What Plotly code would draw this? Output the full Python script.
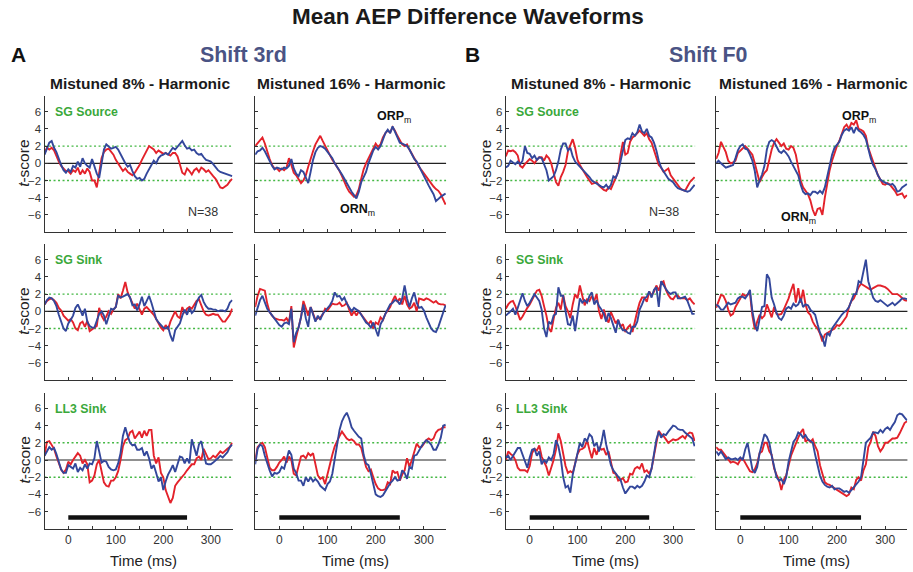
import plotly.graph_objects as go

W, H = 913, 572
FONT = "Liberation Sans, Arial, sans-serif"

# sample grid (ms) shared by all waveforms
TIME_MS = list(range(-50, 350, 5))
STIM_MS = [0, 250]
STIM_Y = -6.7
Y_TICKS = [-6, -4, -2, 0, 2, 4, 6]
X_TICKS = [0, 100, 200, 300]
X_MINOR_TICKS = [-50, 50, 150, 250]
SIG_LEVEL = 2.0

SHIFTS = ["Shift 3rd", "Shift F0"]
CONDITIONS = ["Mistuned 8% - Harmonic", "Mistuned 16% - Harmonic"]
LAYERS = ["SG Source", "SG Sink", "LL3 Sink"]

# ---- Shift 3rd, SG Source ----
s3_m8_src_red = [
    1.2, 1.8, 1.6, 1.8, 1.5, 0.8, 0.2, -0.3, -0.6, -0.9,
    -0.9, -1.2, -0.8, -1.0, -0.5, -1.3, -0.8, -1.2, -0.6, -1.0,
    -2.0, -2.0, -2.8, -1.2, 0.6, 1.3, 1.6, 1.7, 1.3, 1.0,
    0.4, 0.0, -0.4, -0.9, -0.6, -1.0, -1.2, -1.4, -1.1, -0.7,
    -0.2, 0.4, 0.9, 1.5, 2.0, 1.8, 1.6, 1.2, 1.5, 1.3,
    1.1, 1.2, 1.0, 0.9, 1.2, 1.2, 0.8, -0.2, -1.1, -1.3,
    -0.6, -0.9, -1.3, -0.8, -0.6, -1.0, -0.5, -0.7, -1.0, -0.8,
    -1.2, -1.5, -1.8, -2.3, -2.8, -2.9, -2.7, -2.5, -2.1, -1.8]
s3_m8_src_blue = [
    1.0, 1.6, 2.4, 2.6, 1.8, 1.3, 0.5, -0.2, -0.8, -1.1,
    -0.7, -1.0, -0.3, -0.5, 0.2, -0.4, 0.6, 0.0, -0.3, -0.5,
    0.5, -0.5, -1.2, -1.7, 0.0, 1.6, 2.2, 2.0, 1.7, 1.8,
    1.9, 1.6, 1.0, 0.5, 0.0, -0.4, -0.2, -0.9, -1.5, -1.8,
    -1.7, -2.0, -1.8, -1.2, -0.6, -0.2, 0.3, 0.0, 0.6, 0.9,
    1.0, 1.2, 1.0, 1.4, 1.8, 1.6, 1.9, 2.2, 2.6, 2.1,
    1.7, 1.8, 1.5, 1.6, 1.2, 1.0, 1.1, 0.7, 0.4, 0.3,
    0.2, -0.1, -0.5, -0.8, -1.0, -1.1, -1.2, -1.3, -1.4, -1.5]
s3_m16_src_red = [
    2.0, 2.3, 2.7, 3.0, 2.3, 1.3, 0.5, -0.2, -0.6, -0.6,
    -0.9, -0.6, -0.8, -0.5, 0.6, -0.2, -1.1, -1.4, -1.9, -2.3,
    -2.0, -1.4, -0.4, 0.6, 1.4, 2.2, 2.8, 3.2, 2.6, 2.0,
    1.6, 1.0, 0.4, 0.0, -0.4, -0.9, -1.5, -2.2, -2.8, -3.3,
    -3.6, -3.9, -3.7, -3.0, -1.8, -0.7, 0.0, 0.6, 1.3, 1.8,
    2.3, 1.9, 2.2, 3.0, 3.5, 3.8, 3.6, 4.2, 3.8, 3.2,
    2.6, 2.2, 2.0, 2.2, 1.6, 1.1, 0.5, 0.1, -0.4, -0.8,
    -1.2, -1.6, -2.0, -2.4, -2.7, -3.0, -3.2, -3.6, -4.2, -4.8]
s3_m16_src_blue = [
    1.0, 1.4, 1.5, 1.8, 1.4, 0.8, 0.2, -0.3, -0.7, -0.5,
    -0.6, -0.7, -0.5, -0.6, -0.3, 0.5, -0.6, -1.2, -1.5, -0.8,
    -1.0, -1.6, -2.3, -1.0, 0.4, 1.3, 1.8, 2.0, 1.9, 1.7,
    1.3, 1.0, 0.6, 0.0, -0.4, -0.8, -1.3, -1.8, -2.3, -2.9,
    -3.3, -3.7, -4.1, -3.3, -2.2, -1.6, -1.0, 0.0, 0.8, 1.5,
    1.9, 1.6, 2.0, 2.7, 3.5, 3.9, 3.5, 4.3, 3.6, 2.9,
    2.4, 2.3, 2.1, 2.0, 1.6, 1.1, 0.5, 0.2, -0.4, -1.0,
    -1.4, -2.0, -2.6, -3.1, -3.6, -4.4, -4.1, -3.9, -3.7, -3.5]

# ---- Shift F0, SG Source ----
f0_m8_src_red = [
    0.8, 1.5, 1.4, 1.5, 1.3, 0.9, -0.3, -0.5, -0.1, 0.2,
    0.5, 0.3, 0.0, 0.4, 0.7, 0.7, 0.3, 0.9, 0.6, 0.0,
    -1.2, -2.2, -2.6, -1.6, -1.0, -0.2, 1.4, 2.0, 2.8, 1.8,
    0.4, -0.2, -0.7, -1.2, -1.6, -2.0, -2.4, -2.3, -2.2, -2.6,
    -2.9, -3.1, -3.2, -2.8, -3.0, -2.4, -1.6, -1.0, 1.0, 2.5,
    1.0, 1.2, 2.5, 3.0, 3.2, 3.5, 3.8, 3.5, 3.2, 3.5,
    2.8, 2.4, 1.6, 0.7, -0.2, -0.5, -1.0, -0.8, -0.6, -1.4,
    -1.8, -2.2, -2.5, -2.9, -3.1, -3.2, -2.7, -2.2, -1.9, -1.6]
f0_m8_src_blue = [
    -0.5, -0.3, 0.3, 0.1, -0.1, 0.2, -0.1, 0.3, 2.0, 1.2,
    1.1, 0.6, 0.9, 0.4, 0.7, 0.6, -0.1, -0.8, -2.0, -1.8,
    -1.5, -0.8, 0.2, 1.6, 2.3, 2.3, 1.5, 1.8, 0.8, 0.2,
    -0.1, -0.3, -0.7, -1.0, -1.3, -1.6, -2.0, -2.2, -2.4, -2.5,
    -2.7, -2.8, -2.5, -2.9, -2.5, -1.5, -1.7, -1.0, 0.3, 1.5,
    2.7, 2.9, 2.8, 3.5, 3.2, 3.6, 4.5, 3.7, 3.5, 4.0,
    3.2, 3.0, 2.4, 1.5, 0.3, -0.5, -0.9, -1.4, -1.8, -2.0,
    -2.2, -2.6, -2.9, -3.0, -3.1, -3.2, -3.3, -3.2, -2.9, -2.5]
f0_m16_src_red = [
    0.5, 1.2, 2.5, 1.8, 1.3, 0.3, 0.0, 0.1, 0.3, 1.2,
    1.5, 1.8, 2.0, 1.7, 1.4, 1.0, 0.0, -1.3, -2.2, -1.6,
    -1.1, -0.8, 0.5, 1.6, 2.4, 2.8, 2.4, 2.0, 2.3, 1.7,
    1.6, 2.0, 1.8, 1.0, -0.5, -2.0, -2.8, -3.2, -3.6, -4.3,
    -5.4, -6.1, -5.3, -5.2, -6.0, -4.0, -2.2, -0.8, 0.3, 1.3,
    2.0, 2.6, 3.4, 4.2, 4.5, 4.0, 4.7, 4.5, 5.0, 4.0,
    3.9, 3.7, 3.2, 1.8, 1.0, 0.1, -0.6, -1.4, -2.0, -2.4,
    -2.5, -2.3, -2.5, -2.8, -3.2, -3.7, -3.6, -3.5, -4.0, -3.7]
f0_m16_src_blue = [
    0.0, 0.3, 0.0, -0.2, -0.5, -0.4, -0.3, -0.2, 0.6, 1.5,
    2.0, 2.2, 1.7, 1.6, 1.0, 0.3, -0.9, -2.8, -2.0, -1.3,
    -0.3, 1.6, 2.5, 2.7, 2.5, 2.0, 1.4, 1.2, 1.5, 1.2,
    0.8, 0.2, -0.4, -1.0, -1.4, -2.5, -3.3, -3.6, -3.5, -3.7,
    -3.3, -3.3, -3.5, -3.2, -3.5, -2.8, -1.5, -0.3, 1.0, 1.8,
    2.2, 2.5, 3.3, 3.8, 4.0, 3.8, 4.2, 3.5, 4.2, 3.8,
    3.6, 3.3, 2.8, 1.6, 0.6, -0.2, -0.7, -1.4, -1.9, -2.1,
    -2.3, -2.4, -2.5, -2.4, -2.7, -3.3, -3.2, -2.8, -2.6, -2.4]

# ---- Shift 3rd, SG Sink ----
s3_m8_sgsink_red = [
    0.8, 1.2, 1.4, 1.5, 1.3, 1.0, 0.4, 0.1, -0.5, -0.8,
    -1.1, -0.9, -1.3, -2.0, -2.2, -1.4, -1.2, -1.8, -1.1, -2.3,
    -2.1, -2.0, -1.7, 0.4, -0.5, -1.0, -0.6, 0.0, -0.3, 0.2,
    0.5, 2.0, 1.5, 2.4, 3.4, 2.2, 1.5, 1.0, 0.3, 0.9,
    0.3, -0.4, 0.3, 0.5, 0.2, -0.1, -0.4, -0.9, -1.4, -1.9,
    -2.2, -1.6, -2.1, -1.2, -0.6, 0.0, -0.6, -0.8, 0.5, -0.2,
    0.3, 0.5, 0.3, 0.8, 1.2, 1.4, 0.6, 0.0, -0.4, -0.5,
    -0.4, -0.3, -0.4, -0.4, -0.8, -1.2, -1.2, -0.8, -0.4, 0.3]
s3_m8_sgsink_blue = [
    0.8, 1.3, 1.6, 1.5, 1.2, 0.6, -0.4, -1.2, -2.0, -2.3,
    -1.4, -1.0, -0.5, 0.4, 0.8, 0.2, -0.5, 0.3, -1.2, -1.7,
    -1.9, -1.9, -1.0, -0.3, 0.0, -0.5, -1.5, -0.6, 0.3, 0.2,
    0.5, 1.8, 1.6, 1.7, 1.9, 2.0, 1.6, 0.7, 0.8, 0.1,
    0.8, 1.7, 0.6, 1.2, 1.8, 1.0, 0.0, -0.9, -1.3, -1.6,
    -1.9, -2.0, -1.8, -2.8, -3.5, -2.2, -1.8, -1.4, -0.5, 0.2,
    -0.4, 0.4, -0.2, 0.1, 1.0, 1.6, 1.9, 1.1, 0.6, 0.3,
    0.3, 0.2, 0.2, 0.0, 0.1, 0.1, 0.0, 0.3, 1.0, 1.3]
s3_m16_sgsink_red = [
    0.5, 1.8, 2.6, 2.5, 2.4, 0.9, -0.1, -0.5, -0.8, -0.9,
    -1.0, -1.0, -1.1, -0.8, -1.3, 0.6, -4.2, -3.0, -2.0, -0.7,
    1.2, 0.4, -0.5, 0.5, -0.3, -1.0, -0.8, -0.7, -0.4, 0.3,
    0.1, 0.5, 0.9, 0.8, 0.8, 1.0, 0.6, 0.7, 1.0, 0.2,
    -0.5, 0.0, -0.5, 0.0, -0.4, -0.8, -1.1, -1.5, -1.1, -2.0,
    -1.3, -1.5, -0.7, -1.0, -0.3, 0.1, 0.5, 1.2, 1.8, 1.1,
    1.5, 0.8, 1.8, 0.8, 0.3, 0.5, 1.0, 0.0, 1.5, 1.4,
    1.3, 1.5, 1.4, 1.2, 1.0, 1.2, 0.9, 0.8, 0.8, 0.7]
s3_m16_sgsink_blue = [
    -0.5, 0.3, 1.3, 1.8, 1.0, 0.3, -0.1, -0.5, -0.9, -1.3,
    -1.6, -1.8, -1.4, -1.3, -1.5, 0.3, -3.6, -2.5, -1.9, -0.7,
    0.8, -0.8, -1.8, 0.5, -0.4, -1.2, -0.5, -1.0, -0.3, 0.0,
    0.4, 0.7, 1.2, 2.2, 1.7, 1.8, 1.3, 1.6, 0.9, 0.4,
    0.0, 0.4, 0.2, 0.0, -0.4, -0.9, -1.3, -1.5, -1.9, -1.3,
    -2.0, -2.9, -1.5, -1.0, -0.3, 0.3, 0.8, 1.0, 1.3, 1.2,
    0.8, 1.5, 3.0, 1.5, 0.5, 1.5, 2.2, 1.0, 0.4, 0.5,
    0.1, -0.7, -1.4, -2.0, -2.3, -2.4, -1.8, -1.0, 0.0, 0.7]

# ---- Shift F0, SG Sink ----
f0_m8_sgsink_red = [
    0.3, 0.8, 1.1, 1.2, 0.6, -0.3, -1.0, -0.6, 0.0, 0.4,
    0.8, 1.3, 1.8, 2.4, 2.5, 1.8, 0.6, -0.5, -2.0, -2.4,
    -0.9, 0.4, 1.0, 0.2, 1.9, 0.6, 0.0, -0.8, 0.8, 2.0,
    1.5, 3.0, 1.8, 0.7, 1.4, 1.2, 1.8, 1.2, 2.0, 0.0,
    -0.9, 0.2, -0.8, -1.3, -0.1, -0.8, -1.4, -1.0, -1.8, -1.5,
    -2.4, -1.9, -1.6, -2.4, -1.0, 0.0, 1.0, 1.6, 1.6, 1.1,
    2.3, 1.8, 2.3, 3.0, 2.4, 3.3, 3.5, 2.5, 1.9, 1.5,
    1.4, 1.8, 1.8, 1.5, 1.5, 1.5, 1.3, 1.5, 1.1, 0.8]
f0_m8_sgsink_blue = [
    -0.5, -0.3, 0.0, 0.3, -0.4, 0.4, 1.2, 2.1, 1.2, 0.6,
    1.0, 1.6, 2.0, 1.6, 1.2, 0.2, -2.0, -3.0, -1.2, -1.5,
    -0.5, -0.3, 2.8, 1.8, 1.8, 0.0, -1.5, -1.6, -0.5, -2.3,
    -0.3, 1.5, 1.0, 1.3, 1.0, 1.8, 2.2, 0.8, 1.3, 0.6,
    0.2, -0.3, -1.2, -0.2, -0.8, -1.8, -2.5, -1.0, -1.8, -2.2,
    -2.2, -2.5, -2.6, -1.8, -1.8, -1.2, 0.2, 0.8, 1.5, 1.7,
    2.3, 1.6, 2.5, 2.8, 0.5, 3.5, 3.0, 2.6, 2.2, 2.0,
    2.2, 2.2, 1.5, 1.5, 1.6, 1.7, 1.2, 0.5, -0.3, -0.3]
f0_m16_sgsink_red = [
    0.4, 1.2, 1.9, 1.8, 1.2, 0.2, -0.5, -0.3, 0.5, 1.0,
    1.5, 2.0, 1.8, 2.0, 2.1, -0.5, -2.1, -1.2, -0.4, -0.8,
    -0.5, 0.8, 0.0, -0.7, 0.5, -0.3, -0.4, -0.3, 0.2, 0.8,
    1.5, 2.4, 3.2, 1.0, 2.7, 1.0, 2.5, 0.8, -0.1, -0.4,
    -1.2, -1.7, -2.0, -2.6, -3.5, -2.7, -2.5, -2.4, -2.2, -2.0,
    -1.6, -1.7, -1.4, -1.0, -0.6, 0.5, 1.2, 1.5, 2.2, 2.8,
    3.2, 3.0, 2.8, 2.6, 2.5, 2.7, 2.9, 3.0, 3.0, 2.9,
    2.8, 2.6, 2.3, 2.0, 2.0, 2.0, 1.8, 1.5, 1.3, 1.2]
f0_m16_sgsink_blue = [
    0.8, 0.6, 0.2, 0.2, 0.6, 1.0, 0.8, 0.9, 1.0, 1.5,
    1.7, 1.7, 1.5, 1.9, 2.5, 0.0, -1.5, -2.3, -0.8, 0.5,
    0.6, 4.3, 3.8, 1.6, 0.8, -0.2, -0.8, -1.0, -0.5, 0.3,
    0.5, 0.3, 0.9, 0.6, 0.8, 1.5, 0.5, 0.8, 0.7, 0.2,
    -0.1, -0.4, -1.5, -2.5, -3.0, -4.1, -2.5, -2.8, -2.0, -1.6,
    -1.2, -0.7, -0.4, -0.1, 0.1, 0.5, 1.3, 2.0, 2.0, 3.5,
    3.3, 4.5, 6.0, 3.5, 2.5, 1.6, 1.2, 1.1, 1.3, 1.1,
    0.8, 0.6, 0.8, 1.0, 0.7, 0.9, 1.2, 1.5, 1.5, 1.4]

# ---- Shift 3rd, LL3 Sink ----
s3_m8_ll3_red = [
    0.5, 2.1, 2.2, 1.7, 1.3, 0.4, -0.4, -1.1, -1.5, -1.1,
    -0.2, -0.5, 0.0, 0.4, 0.8, 0.5, -0.4, 0.0, -0.5, -2.6,
    -2.4, -1.8, -0.5, 0.0, -1.5, -2.6, -3.0, -3.1, -2.4, -2.4,
    -2.0, -1.3, 0.0, 1.6, 2.3, 2.5, 3.2, 3.4, 2.5, 2.9,
    3.3, 2.6, 3.4, 2.8, 3.5, 3.5, 0.5, -0.4, 0.3, -1.5,
    -2.0, -3.5, -4.3, -5.0, -4.4, -3.0, -2.6, -2.3, -2.0, -1.6,
    -1.2, -0.8, -0.5, -0.5, 0.2, 0.4, 0.0, 1.3, 0.6, 0.1,
    0.2, 0.5, 0.3, 0.6, 1.0, 0.8, 1.1, 1.3, 1.5, 2.0]
s3_m8_ll3_blue = [
    0.5, 1.0, 1.5, 1.2, 1.4, 0.7, -0.2, -1.1, -1.5, -1.5,
    -0.6, -0.8, -1.0, -0.4, -1.4, -0.9, -1.2, -0.5, -1.0, -0.4,
    -0.5, 0.2, 2.2, 1.0, -0.3, -0.1, -0.2, -0.8, -1.1, -1.2,
    -1.1, -0.4, 0.8, 2.8, 3.8, 2.8, 2.0, 1.7, 1.8, 1.2,
    1.2, 1.4, 0.5, 1.0, 0.2, -1.0, -0.6, -1.5, -2.5, -2.0,
    -3.5, -2.5, -1.7, -1.2, -0.6, -1.4, -0.6, 0.4, 0.3, -0.4,
    0.2, -0.4, 2.4, 1.5, 0.5, 1.8, 2.2, 0.8, -0.4, -0.5,
    -0.5, -0.3, -0.1, 0.2, 0.5, 0.3, 0.6, 0.9, 1.5, 1.8]
s3_m16_ll3_red = [
    0.0, 1.5, 1.8, 2.0, 1.5, 0.3, -0.9, -1.2, -1.2, -0.8,
    -0.3, 0.0, 0.4, -0.3, 0.4, 0.0, -1.6, -1.8, -0.5, 0.4,
    0.5, 0.2, 0.8, 0.5, 0.8, -0.6, -1.8, -2.2, -2.0, -2.8,
    -1.6, -0.5, 0.6, 1.6, 2.3, 2.8, 3.3, 2.9, 2.5, 2.3,
    2.4, 2.2, 1.8, 1.8, 1.4, 0.3, -0.8, -1.3, -1.1, -2.0,
    -2.8, -3.3, -3.5, -3.5, -3.4, -2.6, -2.8, -1.2, -1.5, -1.4,
    -2.4, -1.7, -1.2, 0.2, -0.8, 0.0, 1.1, 1.9, 1.5, 1.5,
    1.9, 2.3, 2.5, 2.3, 2.5, 3.2, 3.5, 3.6, 3.8, 3.8]
s3_m16_ll3_blue = [
    -0.5, 1.3, 1.8, 1.6, 0.5, -0.5, -1.2, -1.9, -1.5, -1.6,
    -1.4, -0.8, -1.0, 0.0, 1.1, 0.6, -1.0, -1.5, -2.4, -2.4,
    -3.0, -2.0, -2.5, -2.0, -2.5, -2.2, -2.5, -3.0, -3.3, -3.5,
    -2.8, -2.5, -1.6, 0.3, 1.8, 3.5, 4.5, 5.1, 5.5, 4.8,
    3.8, 3.4, 3.0, 2.7, 2.5, 0.6, -0.4, -0.6, -1.6, -2.8,
    -4.0, -4.2, -4.3, -4.1, -3.6, -3.1, -2.7, -2.4, -2.0, -2.4,
    -2.3, -1.2, -1.5, -2.2, -0.8, -1.0, 0.5, 0.6, 1.2, 1.6,
    2.0, 2.3, 2.1, 1.8, 1.2, 1.2, 1.8, 2.6, 4.0, 4.1]

# ---- Shift F0, LL3 Sink ----
f0_m8_ll3_red = [
    0.0, 1.0, 0.7, 0.5, 0.0, -0.9, -1.2, -1.2, -1.2, -1.4,
    -0.7, 0.8, 1.3, 1.1, 1.7, 0.4, -0.2, -0.8, -1.8, -1.0,
    0.0, 1.2, 3.1, 2.2, 0.5, -0.7, -1.5, -1.3, -1.5, -0.5,
    0.7, 1.2, 1.3, 1.5, 2.3, 1.2, 0.2, 1.4, 0.6, 1.5,
    1.2, 1.3, 0.6, 1.0, -0.4, -1.5, -1.6, -2.4, -2.3, -2.1,
    -2.6, -2.5, -1.6, -1.7, -1.0, -0.8, -1.0, -0.4, -1.4, -1.2,
    -1.6, -1.0, 0.5, 2.0, 3.4, 3.0, 2.8, 2.4, 2.0, 2.2,
    2.4, 2.3, 2.4, 2.6, 2.8, 2.5, 3.0, 3.2, 3.1, 2.2]
f0_m8_ll3_blue = [
    0.3, 0.5, 0.0, 0.5, 0.9, 1.4, 1.4, 0.6, -0.3, -0.9,
    0.3, 1.2, 1.3, 0.5, 1.0, -0.5, 0.0, -0.3, 0.3, 0.0,
    0.7, 2.3, 1.6, 0.2, -2.0, -3.2, -3.0, -3.8, -1.7, -0.5,
    0.8, 2.0, 1.5, 2.5, 2.2, 3.0, 2.7, 1.6, 2.0, 1.0,
    2.0, 3.5, 1.8, 0.6, -0.6, -1.2, -1.6, -2.0, -2.3, -3.2,
    -3.9, -3.5, -3.1, -3.1, -3.3, -3.0, -3.2, -3.0, -2.5, -1.8,
    -2.0, -1.0, 1.0, 2.4, 3.3, 2.6, 3.0, 2.9, 3.3, 3.7,
    4.0, 3.9, 3.6, 3.5, 3.5, 3.2, 3.0, 2.8, 2.5, 1.6]
f0_m16_ll3_red = [
    1.5, 1.2, 1.2, 0.8, 0.4, 0.0, -0.3, -0.2, -0.3, -0.5,
    0.0, 0.2, -0.3, -0.8, -1.3, -1.4, -1.1, -0.4, 0.8, 1.0,
    2.0, 2.0, 1.0, 0.6, -1.0, -1.7, -2.3, -3.5, -2.3, -1.8,
    -0.5, 0.5, 1.2, 2.0, 2.6, 3.2, 3.6, 2.1, 2.4, 2.1,
    2.4, 1.6, 1.0, -0.6, -1.5, -2.6, -2.8, -2.9, -3.1, -3.3,
    -3.5, -3.7, -3.9, -4.1, -4.2, -4.0, -3.2, -3.4, -2.3, -2.0,
    -2.4, -1.2, -0.5, 1.5, 2.1, 3.3, 2.8, 1.6, 1.0, 1.4,
    2.0, 2.0, 2.2, 2.5, 2.5, 2.6, 3.1, 3.8, 4.3, 4.5]
f0_m16_ll3_blue = [
    1.0, 0.6, 1.0, 0.6, 0.1, 0.3, 0.1, 0.1, 0.2, 0.0,
    0.3, 0.0, 1.2, 2.0, 0.5, -1.1, -1.5, -0.8, 0.8, 2.0,
    3.0, 2.7, 2.0, 0.5, -0.8, -2.0, -2.4, -2.2, -2.8, -2.0,
    -0.2, 1.0, 2.1, 2.5, 3.2, 3.0, 2.6, 2.9, 2.4, 2.2,
    2.0, 0.6, -0.5, -1.8, -2.5, -2.9, -3.1, -3.2, -3.0, -3.4,
    -3.3, -3.3, -3.5, -3.7, -3.6, -3.8, -3.5, -3.2, -2.8, -2.5,
    -2.0, 0.0, 2.0, 2.3, 2.6, 3.2, 3.2, 3.1, 3.5, 3.2,
    3.6, 3.8, 3.5, 4.0, 4.4, 5.2, 5.4, 5.3, 5.0, 4.6]

# panel grid: rows = layers, columns = (shift, condition)
PANELS = [
    [(s3_m8_src_red, s3_m8_src_blue), (s3_m16_src_red, s3_m16_src_blue),
     (f0_m8_src_red, f0_m8_src_blue), (f0_m16_src_red, f0_m16_src_blue)],
    [(s3_m8_sgsink_red, s3_m8_sgsink_blue), (s3_m16_sgsink_red, s3_m16_sgsink_blue),
     (f0_m8_sgsink_red, f0_m8_sgsink_blue), (f0_m16_sgsink_red, f0_m16_sgsink_blue)],
    [(s3_m8_ll3_red, s3_m8_ll3_blue), (s3_m16_ll3_red, s3_m16_ll3_blue),
     (f0_m8_ll3_red, f0_m8_ll3_blue), (f0_m16_ll3_red, f0_m16_ll3_blue)],
]

RED = "#e3222b"
BLUE = "#33479b"
GREEN_TXT = "#3aa83a"
GREEN_DOT = "#45b845"
AXIS_CLR = "#333333"
SHIFT_CLR = "#4a5384"

X_RANGE = [-50, 346]
Y_RANGE = [-8, 7.8]

# pixel layout of the axes boxes
COL_ZERO_PX = [68.3, 279.3, 529.7, 740.3]
COL_PX_PER_MS = [0.475, 0.482, 0.478, 0.483]
ROW_ZERO_PX = [163.3, 311.3, 460.0]
PX_PER_UNIT = 8.6


def px(x):
    return x / W


def py(y):
    return 1 - y / H


def label(text, x, y, size, color="#222", **kw):
    d = dict(text=text, xref="paper", yref="paper", x=px(x), y=py(y),
             xanchor="center", yanchor="middle", showarrow=False,
             font=dict(size=size, color=color, family=FONT))
    d.update(kw)
    return d


fig = go.Figure()
layout = dict(
    width=W, height=H, margin=dict(l=0, r=0, t=0, b=0),
    paper_bgcolor="white", plot_bgcolor="white", showlegend=False,
    font=dict(family=FONT, color="#222"),
)
shapes = []
annotations = []

for r in range(3):
    for c in range(4):
        k = r * 4 + c + 1
        sfx = "" if k == 1 else str(k)
        x0 = COL_ZERO_PX[c] + X_RANGE[0] * COL_PX_PER_MS[c]
        x1 = COL_ZERO_PX[c] + X_RANGE[1] * COL_PX_PER_MS[c]
        ytop = ROW_ZERO_PX[r] - Y_RANGE[1] * PX_PER_UNIT
        ybot = ROW_ZERO_PX[r] - Y_RANGE[0] * PX_PER_UNIT
        bottom = r == 2
        layout["xaxis" + sfx] = dict(
            domain=[px(x0), px(x1)], range=X_RANGE, anchor="y" + sfx,
            showline=True, linecolor=AXIS_CLR, linewidth=1.4,
            ticks="inside", ticklen=3, tickwidth=1, tickcolor=AXIS_CLR,
            tickvals=X_TICKS,
            minor=dict(tickvals=X_MINOR_TICKS, ticks="inside", ticklen=3,
                       tickwidth=1, tickcolor=AXIS_CLR, showgrid=False),
            showticklabels=bottom, tickfont=dict(size=12, color="#333", family=FONT),
            showgrid=False, zeroline=False, fixedrange=True,
        )
        layout["yaxis" + sfx] = dict(
            domain=[py(ybot), py(ytop)], range=Y_RANGE, anchor="x" + sfx,
            showline=True, linecolor=AXIS_CLR, linewidth=1.4,
            ticks="inside", ticklen=3, tickwidth=1, tickcolor=AXIS_CLR,
            tickvals=Y_TICKS, showticklabels=(c % 2 == 0),
            tickfont=dict(size=11.5, color="#333", family=FONT),
            showgrid=False, zeroline=False, fixedrange=True,
        )
        xr, yr = "x" + sfx, "y" + sfx
        # zero line and significance thresholds
        shapes.append(dict(type="line", xref=xr + " domain", yref=yr, x0=0, x1=1,
                           y0=0, y1=0, line=dict(color="#222", width=1.2), layer="below"))
        for lvl in (SIG_LEVEL, -SIG_LEVEL):
            shapes.append(dict(type="line", xref=xr + " domain", yref=yr, x0=0, x1=1,
                               y0=lvl, y1=lvl,
                               line=dict(color=GREEN_DOT, width=1.4, dash="2px,2.5px"),
                               layer="below"))
        red, blue = PANELS[r][c]
        fig.add_trace(go.Scatter(x=TIME_MS[:len(red)], y=red, mode="lines", xaxis=xr, yaxis=yr,
                                 line=dict(color=RED, width=1.9), hoverinfo="skip"))
        fig.add_trace(go.Scatter(x=TIME_MS[:len(blue)], y=blue, mode="lines", xaxis=xr, yaxis=yr,
                                 line=dict(color=BLUE, width=1.9), hoverinfo="skip"))
        if bottom:
            # stimulus duration bar
            fig.add_trace(go.Scatter(x=STIM_MS, y=[STIM_Y, STIM_Y], mode="lines",
                                     xaxis=xr, yaxis=yr,
                                     line=dict(color="#111", width=4.5), hoverinfo="skip"))
            annotations.append(label("Time (ms)", (x0 + x1) / 2 + 5, 560, 15))
        if c % 2 == 0:
            annotations.append(label("<b>%s</b>" % LAYERS[r], x0 + 8, ytop + 16, 12.3,
                                     GREEN_TXT, xanchor="left"))
            annotations.append(label("<i>t</i>-score", x0 - 21, ROW_ZERO_PX[r], 15.5,
                                     textangle=-90))

# panel headers
annotations.append(label("<b>Mean AEP Difference Waveforms</b>", 468, 16, 22.5, "#1a1a1a"))
for i, letter in enumerate(["A", "B"]):
    annotations.append(label("<b>%s</b>" % letter, [18, 472][i], 55, 21, "#111"))
    annotations.append(label("<b>%s</b>" % SHIFTS[i], [243, 708][i], 55, 21.4, SHIFT_CLR))
SUB_CENTERS = [140, 351, 601, 813]
for c in range(4):
    annotations.append(label("<b>%s</b>" % CONDITIONS[c % 2], SUB_CENTERS[c], 83, 15.5,
                             "#1a1a1a"))

# sample size and peak labels
for xc in (203, 664):
    annotations.append(label("N=38", xc, 212, 12.5, "#333"))
for xc, yc, name in [(394, 117, "ORP"), (357, 210, "ORN"), (859, 117, "ORP"), (798, 218, "ORN")]:
    annotations.append(label("<b>%s</b><sub>m</sub>" % name, xc, yc, 12.5, "#111"))

layout["shapes"] = shapes
layout["annotations"] = annotations
fig.update_layout(**layout)
fig.write_html("out.html")
